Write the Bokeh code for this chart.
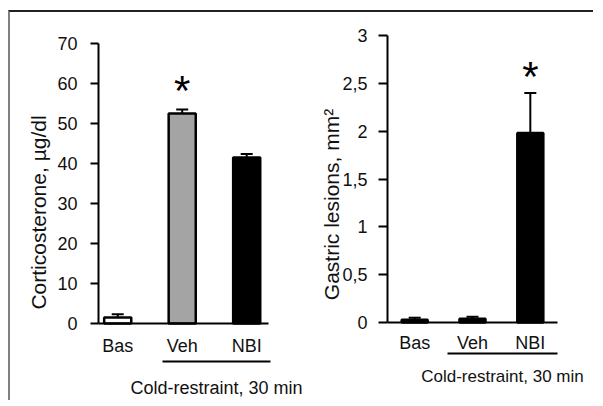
from bokeh.plotting import figure
from bokeh.models import LinearAxis, FixedTicker, Whisker, ColumnDataSource, TeeHead, Range1d
from bokeh.embed import file_html
from bokeh.resources import INLINE
from bokeh.core.properties import value

# ---------------- data ----------------
groups = ["Bas", "Veh", "NBI"]

cort_mean = [1.5, 52.5, 41.5]
cort_err = [0.8, 1.0, 0.9]
cort_fill = ["white", "#a4a4a4", "black"]
cort_star = ["", "*", ""]
cort_ticks = [0, 10, 20, 30, 40, 50, 60, 70]
cort_tick_labels = ["0", "10", "20", "30", "40", "50", "60", "70"]
cort_ylabel = "Corticosterone, µg/dl"

les_mean = [0.03, 0.04, 1.98]
les_err = [0.02, 0.02, 0.42]
les_fill = ["black", "black", "black"]
les_star = ["", "", "*"]
les_ticks = [0, 0.5, 1, 1.5, 2, 2.5, 3]
les_tick_labels = ["0", "0,5", "1", "1,5", "2", "2,5", "3"]
les_ylabel = "Gastric lesions, mm²"

bracket_label = "Cold-restraint, 30 min"

FONT = "Liberation Sans"
TXT = "#111111"

# ---------------- layout ----------------
W, H = 585, 390          # canvas size
OX, OY = 10, 12          # canvas origin on the page (after CSS margin + border)


def x_span(v0, p0, v1, p1):
    s = (p1 - p0) / (v1 - v0)
    start = v0 - (p0 - OX) / s
    return start, start + W / s


def y_span(v0, p0, v1, p1):
    s = (p0 - p1) / (v1 - v0)
    top = v0 + (p0 - OY) / s
    return top - H / s, top


def px_y(v0, p0, v1, p1, page_y):
    s = (p0 - p1) / (v1 - v0)
    return v0 - (page_y - p0) / s


# left chart: axis from page x 98 to 268; y=0 at page 323, 70 at 43
L = dict(xlo=-0.298, xhi=2.338, xp0=98, xp1=268, yp0=323, yp1=43, ytop=70)
# right chart: axis from page x 387 to 557; y=0 at page 322, 3 at 35
R = dict(xlo=-0.47, xhi=2.47, xp0=387, xp1=557, yp0=322, yp1=35, ytop=3)

lx = x_span(L["xlo"], L["xp0"], L["xhi"], L["xp1"])
ly = y_span(0, L["yp0"], L["ytop"], L["yp1"])
rx = x_span(R["xlo"], R["xp0"], R["xhi"], R["xp1"])
ry = y_span(0, R["yp0"], R["ytop"], R["yp1"])

p = figure(width=W, height=H, output_backend="svg", toolbar_location=None,
           x_range=Range1d(*lx), y_range=Range1d(*ly),
           x_axis_location=None, y_axis_location=None,
           min_border=0, min_border_left=0, min_border_right=0,
           min_border_top=0, min_border_bottom=0,
           styles={"margin-top": "10px", "margin-left": "8px",
                   "border-top": "2px solid #222222",
                   "border-left": "2px solid #808080"})
p.extra_x_ranges = {"r": Range1d(*rx)}
p.extra_y_ranges = {"r": Range1d(*ry)}
p.outline_line_color = None
p.grid.visible = False
p.background_fill_color = "white"
p.border_fill_color = "white"


def chart(rn, G, means, errs, fills, stars, ticks, tick_labels, ylabel,
          bar_w, star_off, fs_tick, fs_ylab, fs_brk, tick_len, ytick_standoff,
          ylab_center_page, ylab_standoff, xlab_standoff,
          bracket_page_y, bracket_bounds, brk_standoff):
    idx = list(range(len(groups)))
    kw = dict(x_range_name=rn, y_range_name=rn)
    src = ColumnDataSource(dict(x=idx, top=means, fill=fills,
                                upper=[m + e for m, e in zip(means, errs)],
                                lower=means, star=stars,
                                sy=[m + e + star_off for m, e in zip(means, errs)]))
    p.vbar(x="x", top="top", width=bar_w, bottom=0, fill_color="fill",
           line_color="black", line_width=2.5, source=src, **kw)
    p.add_layout(Whisker(base="x", upper="upper", lower="lower", source=src,
                         line_color="black", line_width=2,
                         upper_head=TeeHead(size=12, line_width=2, line_color="black"),
                         lower_head=None, **kw))
    p.text(x="x", y="sy", text="star", source=src, text_align="center",
           text_baseline="middle", text_font=value(FONT), text_font_size="42px",
           text_color="black", **kw)

    ytop = G["ytop"]
    # y axis
    ya = LinearAxis(fixed_location=G["xlo"], bounds=(0, ytop),
                    ticker=FixedTicker(ticks=ticks),
                    major_label_overrides={t: l for t, l in zip(ticks, tick_labels)}, **kw)
    ya.minor_tick_line_color = None
    ya.major_tick_in = 0
    ya.major_tick_out = tick_len
    ya.major_tick_line_width = 2
    ya.major_tick_line_color = "black"
    ya.axis_line_width = 2
    ya.axis_line_color = "black"
    ya.major_label_text_font = FONT
    ya.major_label_text_font_size = fs_tick
    ya.major_label_text_color = TXT
    ya.major_label_standoff = ytick_standoff
    p.add_layout(ya, "left")

    # y axis title (centred where the reference puts it)
    c = px_y(0, G["yp0"], ytop, G["yp1"], ylab_center_page)
    lo = 2 * c - ytop
    yl = LinearAxis(fixed_location=G["xlo"], bounds=(lo, ytop),
                    ticker=FixedTicker(ticks=[]), **kw)
    yl.axis_line_color = None
    yl.major_tick_out = 0
    yl.major_tick_in = 0
    yl.minor_tick_out = 0
    yl.major_label_text_font_size = "0px"
    yl.major_label_standoff = 0
    yl.axis_label = ylabel
    yl.axis_label_text_font = FONT
    yl.axis_label_text_font_size = fs_ylab
    yl.axis_label_text_font_style = "normal"
    yl.axis_label_text_color = TXT
    yl.axis_label_standoff = ylab_standoff
    p.add_layout(yl, "left")

    # x axis at zero
    xa = LinearAxis(fixed_location=0, bounds=(G["xlo"], G["xhi"]),
                    ticker=FixedTicker(ticks=idx),
                    major_label_overrides={i: g for i, g in zip(idx, groups)}, **kw)
    xa.major_tick_out = 0
    xa.major_tick_in = 0
    xa.major_tick_line_color = None
    xa.minor_tick_line_color = None
    xa.axis_line_width = 2
    xa.axis_line_color = "black"
    xa.major_label_text_font = FONT
    xa.major_label_text_font_size = fs_tick
    xa.major_label_text_color = TXT
    xa.major_label_standoff = xlab_standoff
    p.add_layout(xa, "below")

    # bracket under the cold-restraint groups
    by = px_y(0, G["yp0"], ytop, G["yp1"], bracket_page_y)
    ba = LinearAxis(fixed_location=by, bounds=bracket_bounds,
                    ticker=FixedTicker(ticks=[]), **kw)
    ba.major_tick_out = 0
    ba.major_tick_in = 0
    ba.minor_tick_out = 0
    ba.major_label_text_font_size = "0px"
    ba.major_label_standoff = 0
    ba.axis_line_width = 2
    ba.axis_line_color = "black"
    ba.axis_label = bracket_label
    ba.axis_label_text_font = FONT
    ba.axis_label_text_font_size = fs_brk
    ba.axis_label_text_font_style = "normal"
    ba.axis_label_text_color = TXT
    ba.axis_label_standoff = brk_standoff
    p.add_layout(ba, "below")


chart("default", L, cort_mean, cort_err, cort_fill, cort_star, cort_ticks,
      cort_tick_labels, cort_ylabel, 0.42, 4.75, "18px", "21px", "18px", 8, 13,
      212, 49, 12, 361, (0.695, 2.369), 16)
chart("r", R, les_mean, les_err, les_fill, les_star, les_ticks,
      les_tick_labels, les_ylabel, 0.45, 0.171, "18px", "21px", "17px", 9, 11,
      204, 45, 10, 353, (0.57, 2.47), 13)

open("out.html", "w").write(file_html(p, INLINE))
